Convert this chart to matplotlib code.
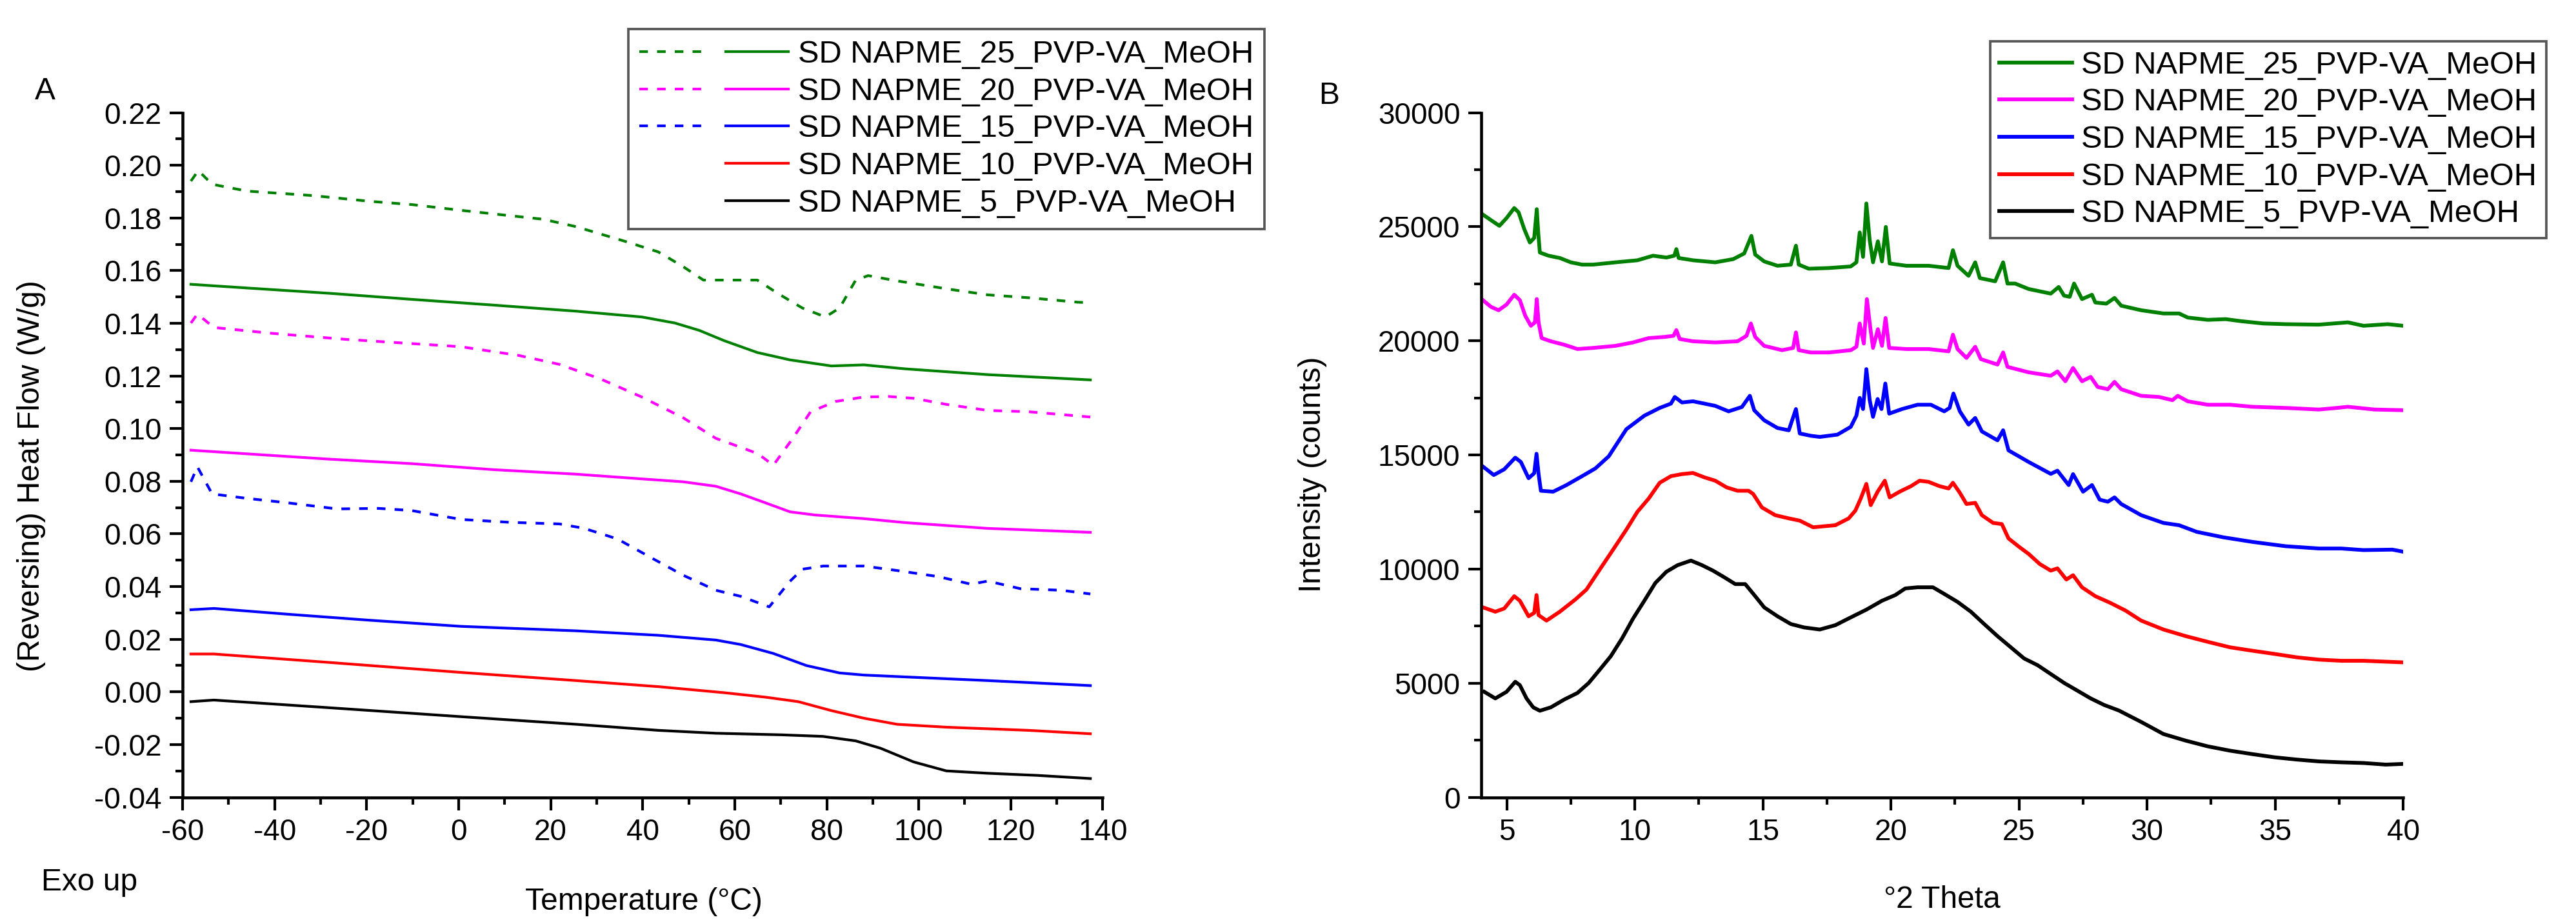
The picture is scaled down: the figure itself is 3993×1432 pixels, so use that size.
import matplotlib
matplotlib.use("Agg")
import matplotlib.pyplot as plt
from matplotlib.ticker import MultipleLocator, FormatStrFormatter
from matplotlib.lines import Line2D
from matplotlib.legend_handler import HandlerTuple

plt.rcParams["font.family"] = ["Liberation Sans", "DejaVu Sans"]
plt.rcParams["axes.unicode_minus"] = False

labels = ["SD NAPME_25_PVP-VA_MeOH", "SD NAPME_20_PVP-VA_MeOH",
          "SD NAPME_15_PVP-VA_MeOH", "SD NAPME_10_PVP-VA_MeOH",
          "SD NAPME_5_PVP-VA_MeOH"]
colors = ["#008000", "#ff00ff", "#0000ff", "#ff0000", "#000000"]

# --- panel A: DSC, temperature (C) vs heat flow (W/g) ---
t25_tot = [-58.2, -56.6, -53.6, -46, -31.7, -19.2, -10.3, 0.5, 9.4, 18.4, 25.5, 36.2, 43.4, 48.8, 53.2,
           57.7, 64.9, 69.3, 74.7, 79.7, 82.8, 86.3, 89, 95.3, 106, 115, 123.9, 134.6, 137.3]
hf25_tot = [0.194, 0.198, 0.1928, 0.1902, 0.1885, 0.1863, 0.1851, 0.1829, 0.1812, 0.1795, 0.1767, 0.1711,
            0.1671, 0.1615, 0.1564, 0.1564, 0.1564, 0.1514, 0.1458, 0.1424, 0.1458, 0.1564, 0.1581, 0.1561,
            0.1531, 0.1508, 0.1497, 0.1480, 0.1478]
t25_rev = [-58.2, -46, -28.2, -10.3, 7.6, 25.5, 39.8, 47, 52.3, 57.7, 64.9, 72, 81, 88.1, 97, 115, 137.3]
hf25_rev = [0.1548, 0.1534, 0.1514, 0.1491, 0.1469, 0.1446, 0.1424, 0.1401, 0.1373, 0.1334, 0.1289, 0.1261,
            0.1238, 0.1242, 0.1227, 0.1205, 0.1185]

t20_tot = [-58.2, -56.8, -53.2, -40.7, -24.6, -10.3, 0.5, 13, 21.9, 30.9, 39.8, 48.8, 55.9, 61.3, 65,
           68.4, 72.5, 76.5, 81.9, 88.1, 93.5, 98.9, 106, 115, 123.9, 137.3]
hf20_tot = [0.1401, 0.1435, 0.1384, 0.1362, 0.1339, 0.1323, 0.1311, 0.1278, 0.1244, 0.1188, 0.1120, 0.1041,
            0.0963, 0.0929, 0.0905, 0.0861, 0.0960, 0.1064, 0.1103, 0.1120, 0.1122, 0.1115, 0.1092, 0.1069,
            0.1064, 0.1044]
t20_rev = [-58.2, -28.2, -10.3, 7.6, 25.5, 39.8, 48.8, 55.9, 61.3, 66.7, 72, 77.4, 88.1, 97, 115, 137.3]
hf20_rev = [0.0918, 0.0884, 0.0867, 0.0844, 0.0827, 0.0809, 0.0798, 0.0781, 0.0752, 0.0718, 0.0684, 0.0672,
            0.0658, 0.0643, 0.0621, 0.0606]

t15_tot = [-58.2, -56.8, -53.6, -46, -37.1, -26.4, -17.4, -10.3, 0.5, 11.2, 21.9, 27.3, 34.5, 41.6, 48.8,
           55.9, 61.3, 67.5, 72, 74.7, 79.2, 88.1, 95.3, 104.2, 111.4, 115, 122.1, 131, 137.3]
hf15_tot = [0.0798, 0.0855, 0.0752, 0.0735, 0.0718, 0.0695, 0.0697, 0.0689, 0.0655, 0.0644, 0.0638, 0.0621,
            0.0581, 0.0512, 0.0443, 0.0386, 0.0363, 0.0323, 0.0420, 0.0466, 0.0478, 0.0478, 0.0461, 0.0438,
            0.0409, 0.0421, 0.0392, 0.0386, 0.0372]
t15_rev = [-58.2, -53.2, -37.1, -19.2, 0.5, 25.5, 43.4, 55.9, 61.3, 68.4, 75.6, 82.8, 88.1, 97, 115, 137.3]
hf15_rev = [0.0312, 0.0317, 0.0295, 0.0272, 0.0249, 0.0232, 0.0215, 0.0197, 0.0180, 0.0146, 0.0100, 0.0072,
            0.0064, 0.0057, 0.0043, 0.0024]

t10_rev = [-58.2, -53.2, -28.2, 0.5, 25.5, 43.4, 57.7, 66.7, 73.8, 81, 88.1, 95.3, 106, 123.9, 137.3]
hf10_rev = [0.0144, 0.0144, 0.0112, 0.0074, 0.0043, 0.0020, -0.0003, -0.0020, -0.0037, -0.0071, -0.0100,
            -0.0123, -0.0134, -0.0146, -0.0159]

t5_rev = [-58.2, -53.2, -28.2, 0.5, 25.5, 43.4, 55.9, 70.2, 79.2, 86.3, 91.7, 98.9, 106, 115, 125.7, 137.3]
hf5_rev = [-0.0037, -0.0031, -0.0060, -0.0094, -0.0123, -0.0146, -0.0157, -0.0163, -0.0169, -0.0186,
           -0.0214, -0.0266, -0.0300, -0.0309, -0.0317, -0.0329]

# --- panel B: XRD, 2theta vs counts ---
x25 = [4.07, 4.38, 4.71, 4.99, 5.29, 5.46, 5.68, 5.90, 6.07, 6.17, 6.23, 6.29, 6.63, 7.07, 7.50, 7.94, 8.37,
       9.24, 10.10, 10.71, 11.23, 11.54, 11.62, 11.71, 12.27, 13.14, 13.84, 14.27, 14.55, 14.70, 15.05, 15.57,
       16.09, 16.29, 16.40, 16.79, 17.57, 18.43, 18.65, 18.78, 18.91, 19.04, 19.17, 19.30, 19.49, 19.65, 19.80,
       19.95, 20.60, 21.47, 22.25, 22.42, 22.60, 23.03, 23.29, 23.47, 24.07, 24.38, 24.55, 24.85, 25.38, 26.24,
       26.55, 26.76, 26.98, 27.15, 27.46, 27.85, 27.98, 28.41, 28.73, 28.99, 29.77, 30.64, 31.25, 31.59, 32.37,
       33.07, 33.68, 34.54, 35.41, 36.71, 37.84, 38.45, 39.40, 40.0]
y25 = [25530, 25290, 25040, 25380, 25820, 25630, 24900, 24310, 24510, 25770, 24700, 23870, 23730, 23630, 23440,
       23340, 23340, 23440, 23530, 23730, 23650, 23730, 24020, 23630, 23530, 23440, 23580, 23830, 24600, 23780,
       23480, 23290, 23340, 24170, 23340, 23160, 23190, 23260, 23440, 24750, 23680, 26020, 24410, 23440, 24360,
       23480, 24990, 23390, 23290, 23290, 23190, 23970, 23290, 22850, 23440, 22750, 22610, 23440, 22510, 22510,
       22270, 22070, 22360, 21980, 21930, 22510, 21830, 22020, 21680, 21630, 21880, 21540, 21340, 21200, 21200,
       21020, 20920, 20950, 20860, 20760, 20730, 20710, 20810, 20660, 20730, 20660]

x20 = [4.07, 4.38, 4.68, 4.99, 5.29, 5.51, 5.72, 5.94, 6.10, 6.17, 6.24, 6.36, 6.72, 7.24, 7.76, 8.37, 9.24,
       9.93, 10.54, 11.15, 11.51, 11.62, 11.75, 12.27, 13.14, 14.01, 14.36, 14.53, 14.70, 15.05, 15.75, 16.18,
       16.29, 16.40, 16.87, 17.57, 18.43, 18.65, 18.78, 18.94, 19.06, 19.20, 19.30, 19.49, 19.65, 19.79, 19.93,
       20.60, 21.47, 22.25, 22.42, 22.60, 22.95, 23.29, 23.51, 24.16, 24.38, 24.55, 25.38, 26.24, 26.50, 26.81,
       27.11, 27.46, 27.80, 28.07, 28.47, 28.73, 28.99, 29.77, 30.47, 30.99, 31.20, 31.59, 32.37, 33.24, 34.11,
       35.41, 36.71, 37.41, 37.84, 38.88, 40.0]
y20 = [21780, 21490, 21340, 21590, 22020, 21780, 21100, 20660, 20810, 21830, 20810, 20120, 19980, 19830, 19640,
       19690, 19780, 19930, 20120, 20170, 20220, 20470, 20080, 19980, 19930, 19980, 20220, 20760, 20170, 19780,
       19590, 19690, 20370, 19590, 19490, 19490, 19590, 19740, 20760, 19880, 21830, 20510, 19690, 20510, 19780,
       21000, 19690, 19640, 19640, 19540, 20270, 19640, 19250, 19740, 19200, 18960, 19490, 18860, 18620, 18470,
       18660, 18230, 18810, 18230, 18420, 17980, 17880, 18200, 17880, 17590, 17540, 17400, 17590, 17350, 17200,
       17200, 17110, 17060, 16990, 17060, 17110, 16990, 16960]

x15 = [4.07, 4.49, 4.90, 5.33, 5.55, 5.85, 6.07, 6.16, 6.24, 6.33, 6.81, 7.33, 7.94, 8.46, 8.98, 9.67, 10.37,
       10.97, 11.41, 11.56, 11.84, 12.27, 12.71, 13.14, 13.66, 14.18, 14.49, 14.66, 15.05, 15.57, 16.01, 16.29,
       16.44, 16.87, 17.22, 17.91, 18.43, 18.65, 18.78, 18.91, 19.04, 19.17, 19.30, 19.48, 19.63, 19.78, 19.93,
       20.43, 21.04, 21.56, 22.08, 22.29, 22.44, 22.69, 23.03, 23.29, 23.55, 24.16, 24.38, 24.59, 25.38, 26.24,
       26.50, 26.94, 27.11, 27.50, 27.85, 28.15, 28.47, 28.73, 28.99, 29.77, 30.64, 31.25, 31.94, 32.98, 34.11,
       35.41, 36.71, 37.58, 38.45, 39.58, 40.0]
y15 = [14490, 14120, 14370, 14880, 14690, 13980, 14200, 15050, 14170, 13430, 13390, 13680, 14070, 14410, 14940,
       16130, 16720, 17060, 17250, 17540, 17300, 17350, 17250, 17150, 16910, 17100, 17590, 16960, 16520, 16180,
       16080, 17010, 15940, 15840, 15790, 15890, 16230, 16720, 17500, 17010, 18760, 17400, 16670, 17450, 17010,
       18130, 16810, 17010, 17200, 17200, 16910, 17060, 17690, 16910, 16330, 16620, 16030, 15640, 16080, 15200,
       14690, 14170, 14310, 13680, 14160, 13390, 13680, 13040, 12950, 13140, 12850, 12360, 12020, 11920, 11630,
       11390, 11190, 11000, 10900, 10900, 10830, 10850, 10760]

x10 = [4.07, 4.55, 4.90, 5.29, 5.51, 5.85, 6.07, 6.16, 6.24, 6.55, 7.07, 7.67, 8.11, 8.63, 9.15, 9.67, 10.10,
       10.54, 10.97, 11.41, 11.84, 12.27, 12.71, 13.14, 13.58, 14.01, 14.44, 14.62, 14.96, 15.48, 16.01, 16.44,
       16.96, 17.83, 18.35, 18.61, 18.82, 19.04, 19.21, 19.48, 19.76, 19.95, 20.34, 20.78, 21.12, 21.47, 21.90,
       22.25, 22.42, 22.69, 22.95, 23.29, 23.55, 23.99, 24.33, 24.59, 25.03, 25.38, 25.81, 26.24, 26.50, 26.85,
       27.11, 27.46, 27.98, 28.56, 29.16, 29.77, 30.64, 31.51, 32.37, 33.24, 34.11, 34.98, 35.85, 36.71, 37.58,
       38.45, 39.32, 40.0]
y10 = [8320, 8130, 8270, 8810, 8610, 7930, 8080, 8860, 7980, 7740, 8130, 8660, 9100, 9980, 10850, 11730, 12510,
       13090, 13780, 14070, 14160, 14210, 14020, 13870, 13580, 13430, 13430, 13290, 12700, 12360, 12220, 12120,
       11830, 11920, 12220, 12560, 13090, 13730, 12800, 13390, 13870, 13140, 13390, 13630, 13870, 13820, 13630,
       13530, 13780, 13340, 12850, 12900, 12360, 12020, 11970, 11340, 10950, 10660, 10220, 9930, 10030, 9540,
       9730, 9200, 8810, 8520, 8180, 7740, 7350, 7060, 6810, 6570, 6420, 6280, 6130, 6030, 5980, 5980, 5940, 5910]

x5 = [4.12, 4.55, 4.99, 5.33, 5.51, 5.77, 6.03, 6.29, 6.72, 7.24, 7.76, 8.20, 8.63, 9.06, 9.50, 9.93, 10.37,
      10.80, 11.23, 11.67, 12.19, 12.62, 13.05, 13.49, 13.92, 14.31, 14.70, 15.05, 15.57, 16.09, 16.61, 17.22,
      17.83, 18.43, 19.04, 19.65, 20.17, 20.56, 21.04, 21.64, 22.08, 22.60, 23.12, 23.64, 24.16, 24.68, 25.20,
      25.72, 26.24, 26.76, 27.28, 27.80, 28.33, 28.90, 29.77, 30.64, 31.51, 32.37, 33.24, 34.11, 34.98, 35.85,
      36.71, 37.58, 38.45, 39.32, 40.0]
y5 = [4620, 4330, 4620, 5060, 4910, 4330, 3940, 3790, 3940, 4280, 4570, 5010, 5590, 6180, 6960, 7830, 8610,
      9390, 9880, 10170, 10370, 10170, 9930, 9640, 9340, 9340, 8810, 8320, 7930, 7590, 7440, 7350, 7540, 7880,
      8220, 8610, 8860, 9150, 9200, 9200, 8910, 8560, 8130, 7590, 7060, 6570, 6080, 5790, 5400, 5010, 4670,
      4330, 4040, 3800, 3300, 2770, 2480, 2230, 2040, 1890, 1750, 1650, 1570, 1530, 1500, 1430, 1460]

FS = 11.5
dash = (0, (3.2, 3.4))

fig = plt.figure(figsize=(3993 / 300, 1432 / 300), dpi=300)
axA = fig.add_axes([0.0709, 0.1372, 0.3572, 0.7409])
axB = fig.add_axes([0.575, 0.1372, 0.3579, 0.7409])


def style_axis(ax):
    for side in ["top", "right"]:
        ax.spines[side].set_visible(False)
    for side in ["left", "bottom"]:
        ax.spines[side].set_linewidth(1.1)
    ax.tick_params(which="major", direction="out", length=4.8, width=1.0, labelsize=11, pad=3)
    ax.tick_params(which="minor", direction="out", length=2.6, width=1.0)


# panel A
tot_A = [(t25_tot, hf25_tot), (t20_tot, hf20_tot), (t15_tot, hf15_tot)]
rev_A = [(t25_rev, hf25_rev), (t20_rev, hf20_rev), (t15_rev, hf15_rev), (t10_rev, hf10_rev), (t5_rev, hf5_rev)]

handles_A = []
for i, (t, hf) in enumerate(rev_A):
    solid, = axA.plot(t, hf, color=colors[i], lw=1.0)
    if i < len(tot_A):
        dashed, = axA.plot(tot_A[i][0], tot_A[i][1], color=colors[i], lw=1.0, linestyle=dash)
    else:
        dashed = Line2D([], [], color="none")
    handles_A.append((dashed, solid))

axA.set_xlim(-60, 140)
axA.set_ylim(-0.04, 0.22)
axA.xaxis.set_major_locator(MultipleLocator(20))
axA.xaxis.set_minor_locator(MultipleLocator(10))
axA.yaxis.set_major_locator(MultipleLocator(0.02))
axA.yaxis.set_minor_locator(MultipleLocator(0.01))
axA.yaxis.set_major_formatter(FormatStrFormatter("%.2f"))
style_axis(axA)
axA.set_xlabel("Temperature (°C)", fontsize=FS)
axA.set_ylabel("(Reversing) Heat Flow (W/g)", fontsize=FS)
axA.xaxis.set_label_coords(0.501, -0.131)
axA.yaxis.set_label_coords(-0.149, 0.469)

legA = axA.legend(handles_A, labels, handler_map={tuple: HandlerTuple(ndivide=None, pad=0.76)},
                  loc="upper right", bbox_to_anchor=(0.4909, 0.9686), bbox_transform=fig.transFigure,
                  fontsize=11.7, handlelength=4.75, handletextpad=0.3, labelspacing=0.26,
                  borderpad=0.35, borderaxespad=0, fancybox=False, framealpha=1)
legA.get_frame().set_edgecolor("#555555")
legA.get_frame().set_linewidth(0.9)

fig.text(0.0175, 0.901, "A", fontsize=FS, ha="center", va="center")
fig.text(0.016, 0.0447, "Exo up", fontsize=FS, ha="left", va="center")

# panel B
xrd = [(x25, y25), (x20, y20), (x15, y15), (x10, y10), (x5, y5)]
for i, (x, y) in enumerate(xrd):
    axB.plot(x, y, color=colors[i], lw=1.4, label=labels[i])

axB.set_xlim(4, 40)
axB.set_ylim(0, 30000)
axB.xaxis.set_major_locator(MultipleLocator(5))
axB.xaxis.set_minor_locator(MultipleLocator(2.5))
axB.yaxis.set_major_locator(MultipleLocator(5000))
axB.yaxis.set_minor_locator(MultipleLocator(2500))
style_axis(axB)
axB.set_xlabel("°2 Theta", fontsize=FS)
axB.set_ylabel("Intensity (counts)", fontsize=FS)
axB.xaxis.set_label_coords(0.4997, -0.129)
axB.yaxis.set_label_coords(-0.167, 0.472)

legB = axB.legend(loc="upper right", bbox_to_anchor=(0.9885, 0.9553), bbox_transform=fig.transFigure,
                  fontsize=11.7, handlelength=2.3, handletextpad=0.3, labelspacing=0.26,
                  borderpad=0.3, borderaxespad=0, fancybox=False, framealpha=1)
legB.get_frame().set_edgecolor("#555555")
legB.get_frame().set_linewidth(0.9)

fig.text(0.516, 0.896, "B", fontsize=FS, ha="center", va="center")

fig.savefig("out.png", dpi=300)
